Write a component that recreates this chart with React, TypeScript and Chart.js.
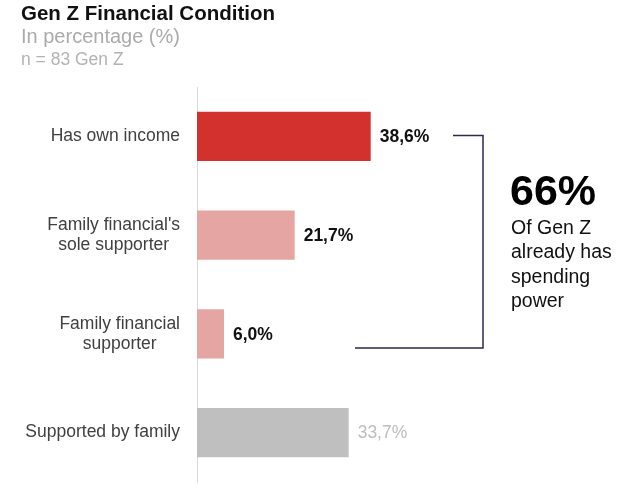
import React, { useEffect, useRef } from "react";
import { Chart, registerables } from "chart.js";

Chart.register(...registerables);

const categories: (string | string[])[] = [
  "Has own income",
  ["Family financial's", "sole supporter"],
  ["Family financial", "supporter"],
  "Supported by family",
];
const values = [38.6, 21.7, 6.0, 33.7];
const valueLabels = ["38,6%", "21,7%", "6,0%", "33,7%"];
const barColors = ["#d3312e", "#e5a5a2", "#e5a5a2", "#bfbfbf"];
const labelColors = ["#111111", "#111111", "#111111", "#bdbdbd"];
const labelBold = [true, true, true, false];
const titleText = "Gen Z Financial Condition";
const subtitleText = "In percentage (%)";
const noteText = "n = 83 Gen Z";
const highlightValue = "66%";
const highlightLines = ["Of Gen Z", "already has", "spending", "power"];

const FONT = "'Liberation Sans', Arial, Helvetica, sans-serif";

const overlayPlugin = {
  id: "overlay",
  afterDatasetsDraw(chart: any) {
    const ctx = chart.ctx;
    const meta = chart.getDatasetMeta(0);
    ctx.save();
    ctx.textBaseline = "middle";
    ctx.textAlign = "left";
    meta.data.forEach((bar: any, i: number) => {
      ctx.font = `${labelBold[i] ? "bold " : ""}17.5px ${FONT}`;
      ctx.fillStyle = labelColors[i];
      ctx.fillText(valueLabels[i], bar.x + 9, bar.y + 1);
    });
    ctx.restore();
  },
  afterDraw(chart: any) {
    const ctx = chart.ctx;
    const y = chart.scales.y;
    ctx.save();
    ctx.textAlign = "left";
    ctx.textBaseline = "alphabetic";
    ctx.fillStyle = "#111111";
    ctx.font = `bold 20.5px ${FONT}`;
    ctx.fillText(titleText, 21, 20);
    ctx.fillStyle = "#ababab";
    ctx.font = `20px ${FONT}`;
    ctx.fillText(subtitleText, 21, 43);
    ctx.fillStyle = "#b3b3b3";
    ctx.font = `17.5px ${FONT}`;
    ctx.fillText(noteText, 21, 65);

    // category labels: block right-aligned, lines centered within block
    ctx.font = `17.5px ${FONT}`;
    ctx.fillStyle = "#404040";
    ctx.textBaseline = "middle";
    ctx.textAlign = "center";
    const rightEdge = y.right - 17;
    const lineH = 20;
    categories.forEach((c, i) => {
      const lines = Array.isArray(c) ? c : [c];
      const maxW = Math.max(...lines.map((l) => ctx.measureText(l).width));
      const cx = rightEdge - maxW / 2;
      const cy = y.getPixelForValue(i);
      lines.forEach((l, j) => {
        ctx.fillText(l, cx, cy + (j - (lines.length - 1) / 2) * lineH);
      });
    });

    // bracket
    const yTop = y.getPixelForValue(0) - 1;
    const yBot = y.getPixelForValue(2) + 14;
    const xV = 483;
    ctx.strokeStyle = "#2b2a4c";
    ctx.lineWidth = 1.5;
    ctx.beginPath();
    ctx.moveTo(453, yTop);
    ctx.lineTo(xV, yTop);
    ctx.lineTo(xV, yBot);
    ctx.lineTo(355, yBot);
    ctx.stroke();

    // highlight
    ctx.textAlign = "left";
    ctx.textBaseline = "alphabetic";
    ctx.fillStyle = "#000000";
    ctx.font = `bold 43px ${FONT}`;
    ctx.fillText(highlightValue, 510, 205);
    ctx.fillStyle = "#111111";
    ctx.font = `19.5px ${FONT}`;
    highlightLines.forEach((l, i) => {
      ctx.fillText(l, 511, 234 + i * 24.3);
    });
    ctx.restore();
  },
};

export default function App() {
  const ref = useRef<HTMLCanvasElement | null>(null);
  useEffect(() => {
    document.body.style.margin = "0";
    const canvas = ref.current;
    if (!canvas) return;
    const chart = new Chart(canvas, {
      type: "bar",
      data: {
        labels: categories as any,
        datasets: [
          {
            data: values,
            backgroundColor: barColors,
            borderWidth: 0,
            barPercentage: 0.5,
            categoryPercentage: 1,
          },
        ],
      },
      options: {
        indexAxis: "y",
        animation: false,
        responsive: false,
        devicePixelRatio: 1,
        layout: { padding: { top: 87, bottom: 8, right: 83, left: 0 } },
        plugins: {
          legend: { display: false },
          tooltip: { enabled: false },
          title: { display: false },
        },
        scales: {
          x: { min: 0, max: 80, display: false },
          y: {
            afterFit(scale: any) {
              scale.width = 197;
              scale.paddingTop = 0;
              scale.paddingBottom = 0;
            },
            grid: { display: false },
            border: { display: true, color: "#d9d9d9", width: 1 },
            ticks: { display: false },
          },
        },
      },
      plugins: [overlayPlugin],
    });
    return () => chart.destroy();
  }, []);
  return (
    <div style={{ position: "fixed", left: 0, top: 0, width: 640, height: 490, background: "#fff" }}>
      <canvas ref={ref} width={640} height={490} style={{ width: 640, height: 490 }} />
    </div>
  );
}
